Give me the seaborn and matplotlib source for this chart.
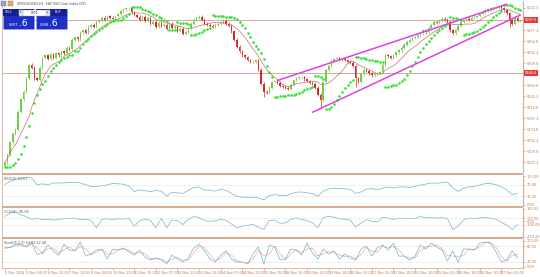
import numpy as np
import pandas as pd
import matplotlib
matplotlib.use("Agg")
import matplotlib.pyplot as plt
from matplotlib.patches import Rectangle
import seaborn as sns

sns.set_theme(style="white")
plt.rcParams['font.family'] = ['DejaVu Sans']

# ---------------- data (2-hour bars) ----------------
first_open = 5700.0
closes = [
    5707, 5722, 5748, 5765, 5773, 5810, 5836, 5851, 5879, 5906,
    5900, 5879, 5875, 5900, 5920, 5926, 5918, 5928, 5920, 5930,
    5926, 5934, 5930, 5941, 5938, 5957, 5963, 5958, 5973, 5977,
    5972, 5984, 5988, 5984, 5994, 5996, 6002, 5998, 6006, 6002,
    6000, 6006, 6010, 6016, 6020, 6022, 6022, 6014, 6008, 6004,
    5998, 6004, 5996, 6002, 5990, 5994, 5984, 5992, 5986, 5988,
    5980, 5990, 5982, 5984, 5976, 5980, 5970, 5974, 5981, 5990,
    5998, 6002, 6004, 5998, 5990, 5988, 5986, 5984, 5988, 5990,
    5992, 5996, 5990, 5986, 5975, 5957, 5943, 5934, 5926, 5922,
    5916, 5912, 5912, 5916, 5896, 5867, 5851, 5849, 5859, 5871,
    5873, 5869, 5863, 5861, 5859, 5857, 5865, 5875, 5879, 5881,
    5881, 5877, 5873, 5869, 5867, 5859, 5845, 5834, 5871, 5895,
    5904, 5914, 5918, 5920, 5916, 5918, 5916, 5912, 5910, 5904,
    5879, 5871, 5887, 5896, 5894, 5889, 5885, 5887, 5889, 5891,
    5906, 5926, 5924, 5920, 5926, 5932, 5936, 5941, 5947, 5953,
    5957, 5961, 5963, 5967, 5971, 5977, 5973, 5981, 5988, 5994,
    5992, 5996, 6000, 5998, 5994, 5977, 5971, 5977, 5986, 5994,
    5998, 6000, 5998, 6002, 6004, 6006, 6010, 6014, 6018, 6020,
    6022, 6024, 6024, 6026, 6022, 6018, 6012, 5998, 5990, 6002,
    5996, 5997.6,
]
wick_size = 3.0
long_wick_bars = [96, 117, 130, 187]
long_wick_lows = [5840.0, 5815.0, 5860.0, 5984.0]

hline_levels = [5997.6, 5889.4]
bid_price = "5997"
ask_price = "5998"
price_frac = ".6"
lot_text = "0.01"
price_ticks = [6022.3, 5977.3, 5954.8, 5932.3, 5909.8, 5864.8, 5842.3,
               5819.8, 5797.3, 5774.8, 5752.3, 5729.8, 5707.3]

# trendlines (bar index, price) for the rising wedge
upper_line_bars = [101, 186]
upper_line_prices = [5874.0, 6030.0]
lower_line_bars = [114, 191]
lower_line_prices = [5809.0, 6008.0]

# indicator values, one per two bars
rsi_vals = [70, 82, 88, 93, 96, 93, 70, 73, 70, 76, 76, 76, 78, 78, 76, 70,
            64, 64, 67, 69, 75, 73, 72, 65, 46, 52, 49, 46, 50, 48, 30, 44,
            42, 40, 50, 60, 62, 52, 50, 48, 54, 50, 40, 30, 27, 25, 27, 24,
            18, 32, 36, 33, 32, 38, 44, 45, 42, 40, 30, 48, 55, 58, 57, 56,
            54, 40, 45, 55, 57, 52, 58, 62, 59, 62, 63, 60, 65, 69, 72, 76,
            75, 77, 79, 58, 47, 58, 62, 64, 69, 74, 74, 70, 62, 52, 36, 40]
cci_vals = [150, 260, 290, 200, 150, 60, 100, 50, 60, 40, 60, 80, 90, 100, 50, 70,
            30, -200, 60, 80, 50, 80, 70, 100, -150, 20, 60, 30, -200, 100, -200, 40,
            20, -100, 60, 150, 120, 20, 0, 20, 60, 30, -80, -200, -150, -120, -100, -180,
            -250, 20, 40, -60, -50, 60, 100, 60, 20, -40, -200, 120, 150, 130, 80, 60,
            40, -180, -50, 50, 0, -20, 120, 100, 60, 90, 100, 80, 90, 150, 110, 120,
            100, 110, 90, -250, -150, 50, 100, 80, 110, 120, 100, 60, -30, -120, -250, -100]
stoch_k = [73, 75, 88, 85, 77, 96, 48, 55, 85, 62, 45, 88, 65, 62, 96, 42,
           50, 65, 69, 31, 69, 65, 73, 58, 46, 65, 38, 27, 35, 27, 12, 46,
           31, 19, 35, 73, 88, 62, 31, 19, 46, 62, 31, 19, 19, 12, 50, 77,
           12, 85, 77, 27, 31, 69, 65, 46, 92, 54, 31, 69, 50, 62, 31, 50,
           35, 27, 69, 81, 42, 73, 85, 65, 92, 42, 42, 27, 42, 85, 69, 92,
           77, 65, 23, 62, 19, 69, 69, 65, 92, 96, 92, 58, 19, 27, 62, 35]

rsi_label = "RSI(14) 43.61"
cci_label = "CCI(14) -95.09"
stoch_label = "Stoch(5,3,3) 53.69 52.48"
title_text = "SPX500/USD,H1  S&P 500 Cash Index CFD"

x_labels = ["5 Nov 2024", "6 Nov 04:00", "6 Nov 20:00", "7 Nov 12:00",
            "8 Nov 04:00", "10 Nov 23:00", "11 Nov 15:00", "12 Nov 07:00",
            "12 Nov 23:00", "13 Nov 15:00", "14 Nov 07:00", "14 Nov 23:00",
            "15 Nov 15:00", "18 Nov 10:00", "19 Nov 02:00", "19 Nov 18:00",
            "20 Nov 10:00", "21 Nov 02:00", "21 Nov 18:00", "22 Nov 10:00",
            "25 Nov 02:00", "25 Nov 18:00", "26 Nov 10:00", "27 Nov 02:00"]

# ---------------- derived series ----------------
n = len(closes)
idx = np.arange(n)
c = np.array(closes, dtype=float)
o = np.concatenate([[first_open], c[:-1]])
hi = np.maximum(o, c) + wick_size
lo = np.minimum(o, c) - wick_size
for b, v in zip(long_wick_bars, long_wick_lows):
    lo[b] = v
ma = pd.Series(c).rolling(10, min_periods=1).mean().values


def psar(high, low, step=0.02, amax=0.2):
    out = np.zeros(len(high))
    up = True
    af = step
    ep = high[0]
    sar = low[0]
    out[0] = sar
    for i in range(1, len(high)):
        sar = sar + af * (ep - sar)
        if up:
            sar = min(sar, low[i - 1], low[max(i - 2, 0)])
            if low[i] < sar:
                up = False
                sar = ep
                ep = low[i]
                af = step
            elif high[i] > ep:
                ep = high[i]
                af = min(af + step, amax)
        else:
            sar = max(sar, high[i - 1], high[max(i - 2, 0)])
            if high[i] > sar:
                up = True
                sar = ep
                ep = high[i]
                af = step
            elif low[i] < ep:
                ep = low[i]
                af = min(af + step, amax)
        out[i] = sar
    return out


sar = psar(hi, lo)
ind_x = idx[::2]
stoch_d = pd.Series(stoch_k, dtype=float).rolling(2, min_periods=1).mean().values

# ---------------- layout ----------------
W, H = 540, 277
fig = plt.figure(figsize=(W / 100, H / 100), dpi=100)
fig.patch.set_facecolor("white")
AX_L, AX_R = 2, 523
TAN = "#d4ad92"
LAB = "#b9794c"


def add_ax(top, bottom):
    return fig.add_axes([AX_L / W, 1 - bottom / H, (AX_R - AX_L) / W, (bottom - top) / H])


def px_to_price(y):
    return 6022.3 - (y - 8) * 2.045


ax_m = add_ax(1, 172)
ax_r = add_ax(175, 206)
ax_c = add_ax(208, 237)
ax_s = add_ax(239, 268)

for ax in (ax_m, ax_r, ax_c, ax_s):
    ax.set_facecolor("white")
    ax.set_xlim(-1.0, n)
    for s in ("top", "bottom"):
        ax.spines[s].set_visible(False)
    ax.spines["left"].set_color(TAN)
    ax.spines["left"].set_linewidth(0.6)
    ax.spines["right"].set_color(TAN)
    ax.spines["right"].set_linewidth(0.8)
    ax.yaxis.tick_right()
    ax.tick_params(axis="y", labelsize=2.5, colors=LAB, length=1.5, width=0.4, pad=1)
    ax.tick_params(axis="x", bottom=False, labelbottom=False)
    ax.grid(False)

# main panel
ax_m.set_ylim(px_to_price(172), px_to_price(1))
colors = np.where(c >= o, "#6ccf45", "#d42a2a")
ax_m.vlines(idx, lo, hi, colors=colors, linewidth=0.5, zorder=3)
ax_m.bar(idx, np.maximum(np.abs(c - o), 0.8), bottom=np.minimum(o, c), width=0.55,
         color=colors, linewidth=0, zorder=4)
sns.lineplot(x=idx, y=ma, ax=ax_m, color="#c87070", linewidth=0.5, zorder=5)
sns.scatterplot(x=idx, y=sar, ax=ax_m, color="#33e333", s=3.6, linewidth=0, zorder=6)
for lvl in hline_levels:
    ax_m.axhline(lvl, color="#d6a8a0", linewidth=0.7, zorder=2)
sns.lineplot(x=upper_line_bars, y=upper_line_prices, ax=ax_m, color="#e040e0", linewidth=1.1, zorder=7)
sns.lineplot(x=lower_line_bars, y=lower_line_prices, ax=ax_m, color="#e040e0", linewidth=1.1, zorder=7)
ax_m.set_yticks(price_ticks)
ax_m.set_yticklabels([f"{v:.1f}" for v in price_ticks])
for lvl in hline_levels:
    ax_m.annotate(f"{lvl:.1f}", xy=(1.0, lvl), xycoords=("axes fraction", "data"),
                  xytext=(1.5, 0), textcoords="offset points", fontsize=2.5, color="white",
                  va="center", ha="left", annotation_clip=False,
                  bbox=dict(boxstyle="square,pad=0.25", fc="#e23a3a", ec="none"))

# RSI
sns.lineplot(x=ind_x, y=rsi_vals, ax=ax_r, color="#7dbcd0", linewidth=0.55)
ax_r.set_ylim(-100 / 29, 100 + 100 / 29)
for lvl in (70, 30):
    ax_r.axhline(lvl, color="#c8c8c8", linewidth=0.4, linestyle=(0, (1.5, 1.5)))
ax_r.set_yticks([100, 70, 30, 0])
ax_r.set_yticklabels(["100.00", "70.00", "30.00", "0.00"])

# CCI
sns.lineplot(x=ind_x, y=cci_vals, ax=ax_c, color="#7dbcd0", linewidth=0.55)
ax_c.set_ylim(-470.2 - 15, 383.53 + 30)
for lvl in (100, -100):
    ax_c.axhline(lvl, color="#c8c8c8", linewidth=0.4, linestyle=(0, (1.5, 1.5)))
ax_c.set_yticks([383.53, 100, 0, -100, -470.2])
ax_c.set_yticklabels(["383.53", "100.00", "0.00", "-100.00", "-470.20"])

# Stochastic
sns.lineplot(x=ind_x, y=stoch_k, ax=ax_s, color="#7dbcd0", linewidth=0.55)
sns.lineplot(x=ind_x, y=stoch_d, ax=ax_s, color="#d06060", linewidth=0.5, linestyle=(0, (1, 1)))
ax_s.set_ylim(-100 / 26, 100 + 200 / 26)
for lvl in (80, 20):
    ax_s.axhline(lvl, color="#c8c8c8", linewidth=0.4, linestyle=(0, (1.5, 1.5)))
ax_s.set_yticks([100, 80, 20, 0])
ax_s.set_yticklabels(["100.00", "80.00", "20.00", "0.00"])
ax_s.spines["bottom"].set_visible(True)
ax_s.spines["bottom"].set_color(TAN)
ax_s.spines["bottom"].set_linewidth(0.6)
xt = idx[::8]
ax_s.set_xticks(xt)
ax_s.set_xticklabels(x_labels[:len(xt)])
ax_s.tick_params(axis="x", bottom=True, labelbottom=True, labelsize=2.4, colors=LAB,
                 length=1.5, width=0.4, pad=0.6)
for t in ax_s.get_xticklabels():
    t.set_ha("left")

for ax in (ax_r, ax_c, ax_s, ax_m):
    ax.set_xlabel("")
    ax.set_ylabel("")
    for t in ax.get_yticklabels():
        t.set_color(LAB)

for ax, lab in ((ax_r, rsi_label), (ax_c, cci_label), (ax_s, stoch_label)):
    ax.text(0.004, 0.93, lab, transform=ax.transAxes, fontsize=2.4, color="#555555",
            va="top", ha="left")

# ---------------- overlay: separators, title, one-click panel ----------------
ov = fig.add_axes([0, 0, 1, 1], zorder=20)
ov.set_xlim(0, W)
ov.set_ylim(H, 0)
ov.axis("off")
ov.patch.set_alpha(0)
for y in (173.6, 207.0, 238.0):
    ov.add_patch(Rectangle((AX_L, y - 1.0), AX_R - AX_L, 2.0, fc=TAN, ec="none"))
ov.add_patch(Rectangle((1, 1), 5, 5, fc="#9aa6c8", ec="#6070a0", lw=0.3))
ov.add_patch(Rectangle((8, 1), 5, 5, fc="#e0b070", ec="#a07040", lw=0.3))
ov.text(17, 3.8, title_text, fontsize=2.3, color="#444444", va="center", ha="left")
ov.add_patch(Rectangle((3, 9), 31, 20, fc="#1d2fc4", ec="#9fa8e8", lw=0.4))
ov.add_patch(Rectangle((36, 9), 31, 20, fc="#1d2fc4", ec="#9fa8e8", lw=0.4))
ov.add_patch(Rectangle((3, 9), 31, 7, fc="#13209a", ec="none"))
ov.add_patch(Rectangle((36, 9), 31, 7, fc="#13209a", ec="none"))
ov.add_patch(Rectangle((19, 9.5), 31, 6, fc="white", ec="#8890b0", lw=0.3))
ov.add_patch(Rectangle((19, 9.5), 4, 6, fc="#e8e8e8", ec="#8890b0", lw=0.3))
ov.add_patch(Rectangle((46, 9.5), 4, 6, fc="#e8e8e8", ec="#8890b0", lw=0.3))
ov.text(21, 12.5, "\u25be", fontsize=2, color="#333333", ha="center", va="center")
ov.text(48, 12.5, "\u25b4", fontsize=2, color="#333333", ha="center", va="center")
ov.text(34.5, 12.5, lot_text, fontsize=2.4, color="#222222", ha="center", va="center")
ov.text(5, 12.3, "SELL", fontsize=2.3, color="white", ha="left", va="center")
ov.text(55, 12.3, "BUY", fontsize=2.3, color="white", ha="left", va="center")
ov.text(18.5, 25.5, bid_price, fontsize=2.6, color="white", ha="right", va="baseline")
ov.text(18.5, 26.5, price_frac, fontsize=6.5, color="white", ha="left", va="baseline")
ov.text(49.5, 25.5, ask_price, fontsize=2.6, color="white", ha="right", va="baseline")
ov.text(49.5, 26.5, price_frac, fontsize=6.5, color="white", ha="left", va="baseline")

fig.savefig("out.png", dpi=100, facecolor="white")
